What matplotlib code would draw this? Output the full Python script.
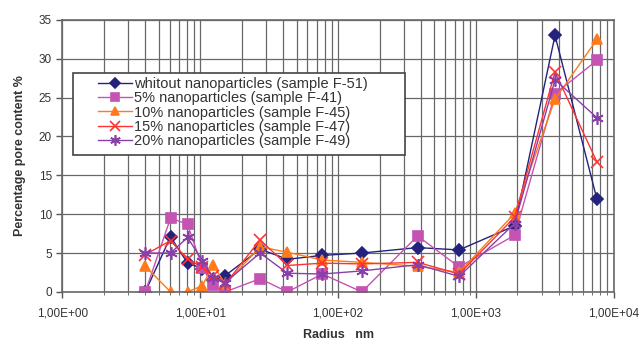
#!/usr/bin/env python3
# pore size distribution chart, log radius axis
import numpy as np
import matplotlib
matplotlib.use("Agg")
import matplotlib.pyplot as plt
from matplotlib.patches import Rectangle
from matplotlib.ticker import LogLocator, FuncFormatter, NullFormatter

plt.rcParams["font.family"] = ["Liberation Sans", "DejaVu Sans"]

# radius bins (nm)
radius = [4.0, 6.1, 8.1, 10.4, 12.4, 15.2, 27.2, 43, 77, 149, 378, 756, 1910, 3750, 7560]

f51 = [0.0, 7.1, 3.7, 3.0, 1.5, 2.1, 5.5, 4.2, 4.7, 5.0, 5.7, 5.4, 8.5, 33.0, 11.9]
f41 = [0.0, 9.5, 8.7, 3.1, 0.9, 0.0, 1.7, 0.0, 2.3, 0.0, 7.2, 3.2, 7.3, 25.5, 29.8]
f45 = [3.3, 0.0, 0.0, 0.8, 3.5, 1.0, 5.8, 5.1, 4.1, 3.8, 3.3, 2.5, 10.1, 24.8, 32.5]
f47 = [4.8, 6.6, 4.2, 3.2, 2.0, 1.0, 6.7, 3.4, 3.7, 3.6, 3.8, 2.3, 9.6, 28.3, 16.7]
f49 = [5.0, 5.0, 7.0, 4.0, 1.8, 1.2, 5.0, 2.4, 2.3, 2.7, 3.5, 2.0, 8.8, 27.3, 22.4]

series = [
    ("whitout nanoparticles (sample F-51)", f51, "#23237d", "D", 6),
    ("5% nanoparticles (sample F-41)", f41, "#c453b4", "s", 7),
    ("10% nanoparticles (sample F-45)", f45, "#ff7a1a", "^", 7),
    ("15% nanoparticles (sample F-47)", f47, "#ff3333", "x", 8),
    ("20% nanoparticles (sample F-49)", f49, "#8a3fa8", (6, 2, 0), 9),
]

fig = plt.figure(figsize=(6.42, 3.43), dpi=100)
ax = fig.add_axes([0.097, 0.149, 0.859, 0.793])

for lab, y, c, m, ms in series:
    ax.plot(radius, y, color=c, lw=1.0, marker=m, ms=ms, mew=1.2,
            mec=c, mfc=c, label=lab)

ax.set_xscale("log")
ax.set_xlim(1, 1e4)
ax.set_ylim(0, 35)
ax.set_yticks(np.arange(0, 36, 5))
ax.xaxis.set_major_locator(LogLocator(base=10, numticks=10))
ax.xaxis.set_minor_locator(LogLocator(base=10, subs=np.arange(2, 10), numticks=20))
ax.xaxis.set_major_formatter(FuncFormatter(lambda v, p: "1,00E+%02d" % int(round(np.log10(v)))))
ax.xaxis.set_minor_formatter(NullFormatter())

gc = "#686868"
ax.grid(True, which="major", axis="both", color=gc, lw=0.9)
ax.grid(True, which="minor", axis="x", color=gc, lw=0.9)
ax.set_axisbelow(True)
for s in ax.spines.values():
    s.set_color(gc)
    s.set_linewidth(1.2)

ax.tick_params(axis="both", which="major", labelsize=8.5, colors="#555555",
               labelcolor="#333333", length=4, width=1)
ax.tick_params(axis="x", which="major", pad=7)
ax.tick_params(axis="x", which="minor", length=2, colors="#555555")

ax.set_xlabel("Radius   nm", fontsize=9, fontweight="bold", color="#333333", labelpad=7)
ax.set_ylabel("Percentage pore content %", fontsize=9, fontweight="bold", color="#333333", labelpad=9)

# legend box drawn separately so the left padding matches
ax.add_patch(Rectangle((0.019, 0.504), 0.602, 0.302, transform=ax.transAxes,
                       facecolor="white", edgecolor="#444444", lw=1.2, zorder=4.5))
leg = ax.legend(loc="upper left", bbox_to_anchor=(0.065, 0.79), fontsize=10.5,
                frameon=False, numpoints=1, handlelength=2.3,
                handletextpad=0.15, borderpad=0, labelspacing=0.02,
                borderaxespad=0, markerscale=0.85)
for t in leg.get_texts():
    t.set_color("#333333")

fig.savefig("out.png", dpi=100)
